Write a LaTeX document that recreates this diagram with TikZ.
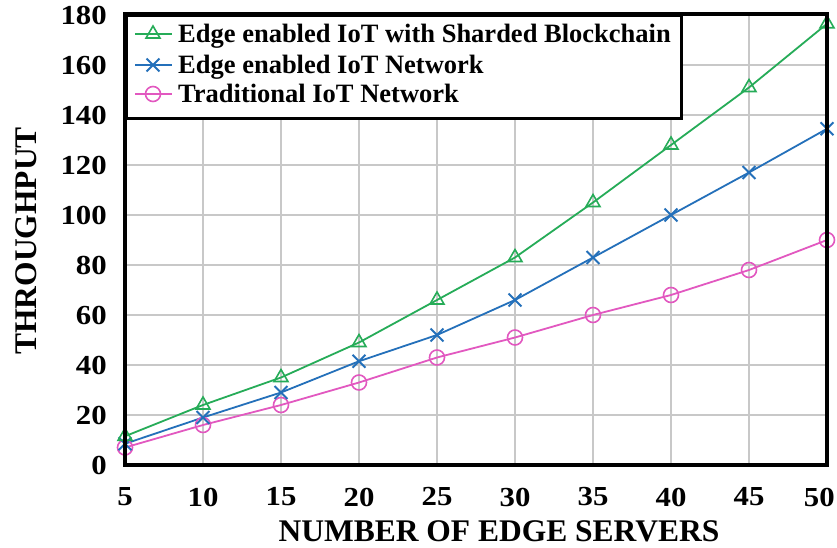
\documentclass[tikz,border=0pt]{standalone}
\usepackage{fontspec}
\setmainfont{Liberation Serif}
\usetikzlibrary{shapes.geometric,shapes.misc}
\definecolor{cg}{RGB}{38,172,88}
\definecolor{cb}{RGB}{36,112,186}
\definecolor{cp}{RGB}{226,88,192}
\definecolor{gridc}{RGB}{200,200,200}
\begin{document}
\begin{tikzpicture}[x=1pt,y=1pt]
\tikzset{
 gridline/.style={draw=gridc, line width=1.3pt},
 series/.style={line width=1.8pt},
 tri/.style={draw=cg, regular polygon, regular polygon sides=3, minimum size=16pt, inner sep=0pt, line width=1.6pt},
 crs/.style={draw=cb, cross out, minimum size=11pt, inner sep=0pt, line width=1.8pt},
 circ/.style={draw=cp, circle, minimum size=15pt, inner sep=0pt, line width=1.6pt},
 ticklab/.style={font=\bfseries\fontsize{27.5}{27.5}\selectfont, inner sep=0pt, xscale=1.12},
 legtext/.style={font=\bfseries\fontsize{26.5}{26.5}\selectfont, inner sep=0pt, anchor=base west},
 axtitle/.style={font=\bfseries\fontsize{31.5}{31.5}\selectfont, inner sep=0pt},
}
\useasboundingbox (0,0) rectangle (837,547);
\fill[white] (0,0) rectangle (837,547);
\begin{scope}[shift={(125pt,82pt)}, x=15.6pt, y=2.5pt]
 \foreach \d in {10,15,...,45} \draw[gridline] (\d-5,0) -- (\d-5,180);
 \foreach \v in {20,40,...,160} \draw[gridline] (0,\v) -- (45,\v);
 \foreach \d/\v [count=\i] in {5/11.5,10/24,15/35,20/49,25/66,30/83,35/105,40/128,45/151,50/176.5}
   \coordinate (g\i) at (\d-5,\v);
 \foreach \d/\v [count=\i] in {5/8.5,10/19,15/29,20/41.5,25/52,30/66,35/83,40/100,45/117,50/134.5}
   \coordinate (b\i) at (\d-5,\v);
 \foreach \d/\v [count=\i] in {5/7,10/16,15/24,20/33,25/43,30/51,35/60,40/68,45/78,50/90}
   \coordinate (p\i) at (\d-5,\v);
 \draw[series, cp] (p1) \foreach \i in {2,...,10} { -- (p\i) };
 \draw[series, cb] (b1) \foreach \i in {2,...,10} { -- (b\i) };
 \draw[series, cg] (g1) \foreach \i in {2,...,10} { -- (g\i) };
 \foreach \i in {1,...,10} {
   \node[circ] (pm\i) at (p\i) {};
   \node[crs] (bm\i) at (b\i) {};
   \node[tri] (gm\i) at (g\i) {};
 }
\end{scope}
% legend
\node[draw, fill=white, line width=3pt, minimum width=555pt, minimum height=103pt, anchor=north west, inner sep=0pt] (legend) at (125,533) {};
\coordinate (la1) at (135,513); \coordinate (lb1) at (172,513);
\coordinate (la2) at (135,482); \coordinate (lb2) at (172,482);
\coordinate (la3) at (135,453); \coordinate (lb3) at (172,453);
\draw[series, cg] (la1) -- (lb1);
\draw[series, cb] (la2) -- (lb2);
\draw[series, cp] (la3) -- (lb3);
\node[tri] (lm1) at (153,513) {};
\node[crs] (lm2) at (153,482) {};
\node[circ] (lm3) at (153,453) {};
\node[legtext] (lt1) at (178,504) {Edge enabled IoT with Sharded Blockchain};
\node[legtext] (lt2) at (178,473) {Edge enabled IoT Network};
\node[legtext] (lt3) at (178,444) {Traditional IoT Network};
% frame
\draw[line width=4pt] (125,82) rectangle (827,533);
% tick labels
\foreach \v in {0,20,...,180} \node[ticklab, anchor=east] (yl\v) at (107,{82+2.5*\v}) {\v};
\foreach \d in {5,10,...,45} \node[ticklab] (xl\d) at ({125+15.6*(\d-5)},50) {\d};
\node[ticklab, anchor=east] (xl50) at (835,50) {50};
% axis titles
\node[axtitle, rotate=90] (ytitle) at (26,306) {THROUGHPUT};
\node[axtitle] (xtitle) at (499,16) {NUMBER OF EDGE SERVERS};
\end{tikzpicture}
\end{document}
